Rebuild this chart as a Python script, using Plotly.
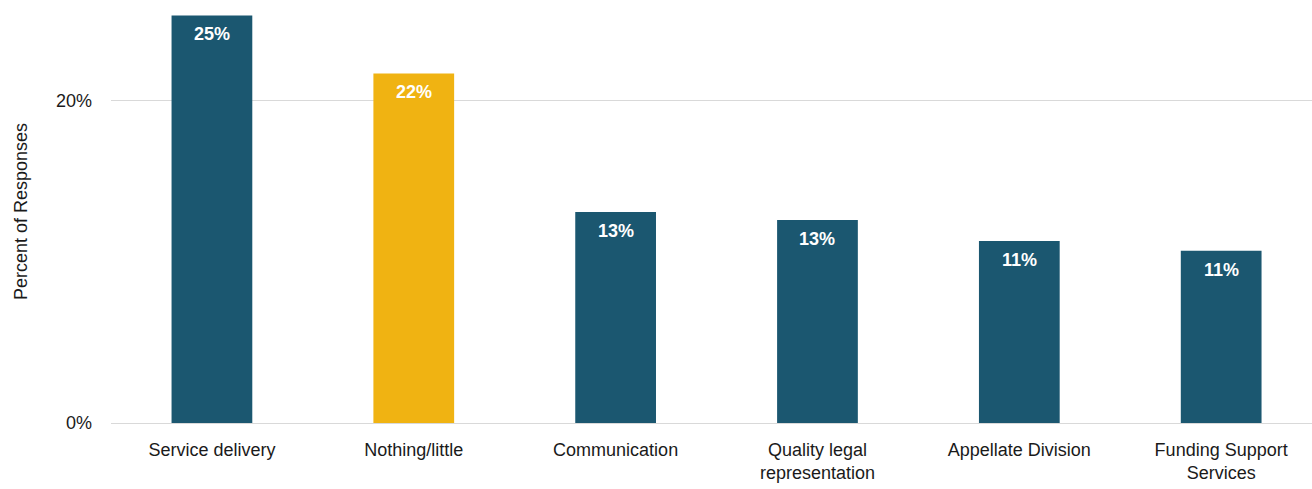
import plotly.graph_objects as go

categories = [
    "Service delivery",
    "Nothing/little",
    "Communication",
    "Quality legal<br>representation",
    "Appellate Division",
    "Funding Support<br>Services",
]
percent_responses = [25.3, 21.7, 13.1, 12.6, 11.3, 10.7]
bar_colors = ["#1B5770", "#F0B312", "#1B5770", "#1B5770", "#1B5770", "#1B5770"]
y_tick_values = [0, 20]
y_tick_labels = ["0%", "20%"]

FONT = "Liberation Sans, Arial, sans-serif"
TEXT_COLOR = "#1a1a1a"

fig = go.Figure(
    go.Bar(
        x=categories,
        y=percent_responses,
        marker=dict(color=bar_colors, line=dict(width=0)),
        hoverinfo="skip",
    )
)

# value labels just inside the top of each bar
for cat, val in zip(categories, percent_responses):
    fig.add_annotation(
        x=cat,
        y=val,
        text=f"{val:.0f}%",
        showarrow=False,
        yanchor="top",
        yshift=-7,
        font=dict(family=FONT, size=18, color="white", weight="bold"),
    )

fig.update_layout(
    width=1312,
    height=489,
    margin=dict(l=111, r=0, t=0, b=66),
    paper_bgcolor="white",
    plot_bgcolor="white",
    bargap=0.6,
    showlegend=False,
    font=dict(family=FONT, size=18, color=TEXT_COLOR),
    xaxis=dict(
        range=[-0.5, 5.45],
        showline=True,
        linecolor="#d9d9d9",
        linewidth=1,
        ticks="",
        showgrid=False,
        ticklabelstandoff=10,
        tickfont=dict(family=FONT, size=18, color=TEXT_COLOR),
    ),
    yaxis=dict(
        range=[0, 26.26],
        tickvals=y_tick_values,
        ticktext=y_tick_labels,
        showgrid=True,
        gridcolor="#d9d9d9",
        gridwidth=1,
        zeroline=False,
        ticks="",
        ticklabelstandoff=18,
        tickfont=dict(family=FONT, size=18, color=TEXT_COLOR),
        title=dict(
            text="Percent of Responses",
            font=dict(family=FONT, size=18, color=TEXT_COLOR),
            standoff=23,
        ),
    ),
)

fig.write_html("out.html")
